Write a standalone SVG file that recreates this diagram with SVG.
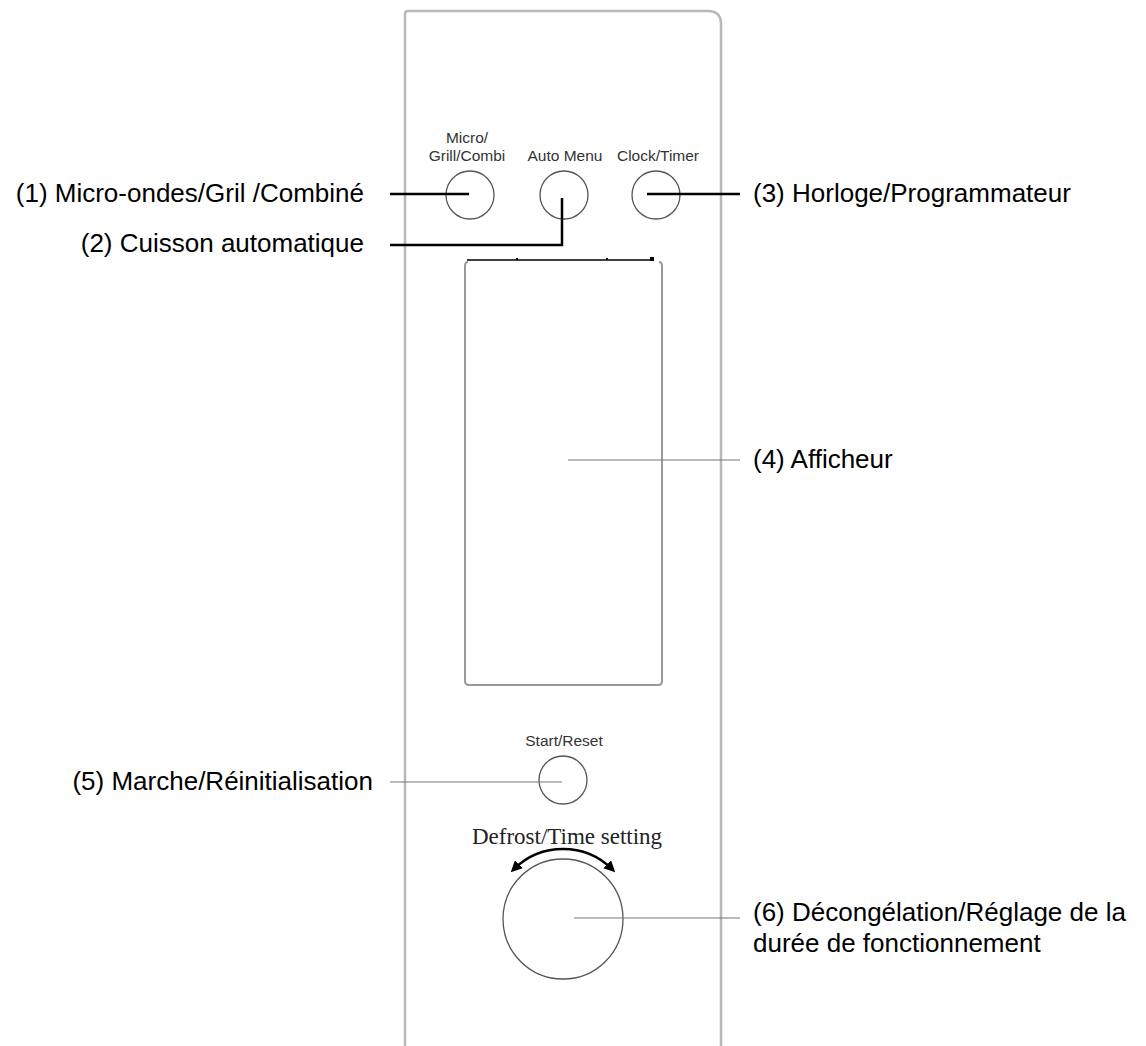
<svg xmlns="http://www.w3.org/2000/svg" width="1146" height="1046" viewBox="0 0 1146 1046">
<style>
.panel{fill:none;stroke:#b8b8b8;stroke-width:2.5}
.btn{fill:#fff;stroke:#555;stroke-width:1.3}
.disp{fill:none;stroke:#999;stroke-width:2}
.lead{fill:none;stroke:#000;stroke-width:2.5}
.thin{fill:none;stroke:#777;stroke-width:1.2}
.lbl{font-family:"Liberation Sans",Arial,sans-serif;font-size:26px;fill:#000}
.small{font-family:"Liberation Sans",Arial,sans-serif;font-size:15.5px;fill:#333;text-anchor:middle}
.serif{font-family:"Liberation Serif","Times New Roman",serif;font-size:23px;fill:#222;text-anchor:middle}
</style>
<defs>
<marker id="ah" viewBox="0 0 10 10" refX="6" refY="5" markerWidth="4.5" markerHeight="4.5" orient="auto">
<path d="M0,0 L10,5 L0,10 Z" fill="#000"/>
</marker>
</defs>
<rect width="1146" height="1046" fill="#fff"/>
<g id="panel">
<path class="panel" d="M405,1046 L405,14 Q405,11 408,11 L708,11 Q721,11 721,24 L721,1046"/>
</g>
<g id="btn1">
<circle class="btn" cx="470" cy="195" r="24"/>
<text class="small" x="467" y="143">Micro/</text>
<text class="small" x="467" y="161">Grill/Combi</text>
</g>
<g id="btn2">
<circle class="btn" cx="564" cy="195" r="24"/>
<text class="small" x="565" y="161">Auto Menu</text>
</g>
<g id="btn3">
<circle class="btn" cx="656" cy="195" r="24"/>
<text class="small" x="658" y="161">Clock/Timer</text>
</g>
<g id="display">
<path class="disp" d="M468,262 Q465,262 465,266 L465,681 Q465,685 469,685 L658,685 Q662,685 662,681 L662,266 Q662,262 659,262"/>
<line x1="467" y1="260" x2="652" y2="260" stroke="#000" stroke-width="1.5"/>
<rect x="650" y="257" width="4" height="4" fill="#000"/>
<rect x="516" y="258" width="2" height="2" fill="#000"/>
<rect x="606" y="258" width="2" height="2" fill="#000"/>
</g>
<g id="btn5">
<circle class="btn" cx="563" cy="780" r="24"/>
<text class="small" x="564" y="746">Start/Reset</text>
</g>
<g id="dial">
<text class="serif" x="567" y="844">Defrost/Time setting</text>
<path d="M563,849 A70,70 0 0 0 514,869" fill="none" stroke="#000" stroke-width="2.5" marker-end="url(#ah)"/>
<path d="M563,849 A70,70 0 0 1 612,869" fill="none" stroke="#000" stroke-width="2.5" marker-end="url(#ah)"/>
<circle class="btn" cx="563" cy="919" r="60"/>
</g>
<g id="connectors">
<line class="lead" x1="390" y1="194" x2="469" y2="194"/>
<polyline class="lead" points="562,198 562,245 390,245"/>
<line class="lead" x1="647" y1="194" x2="740" y2="194"/>
<line class="thin" x1="568" y1="460" x2="740" y2="460"/>
<line class="thin" x1="390" y1="782" x2="562" y2="782"/>
<line class="thin" x1="574" y1="918" x2="740" y2="918"/>
</g>
<g id="labels">
<text class="lbl" x="364" y="202" text-anchor="end">(1) Micro-ondes/Gril /Combiné</text>
<text class="lbl" x="364" y="252" text-anchor="end">(2) Cuisson automatique</text>
<text class="lbl" x="753" y="202">(3) Horloge/Programmateur</text>
<text class="lbl" x="753" y="468">(4) Afficheur</text>
<text class="lbl" x="373" y="790" text-anchor="end">(5) Marche/Réinitialisation</text>
<text class="lbl" x="753" y="921">(6) Décongélation/Réglage de la</text>
<text class="lbl" x="753" y="952">durée de fonctionnement</text>
</g>
</svg>
